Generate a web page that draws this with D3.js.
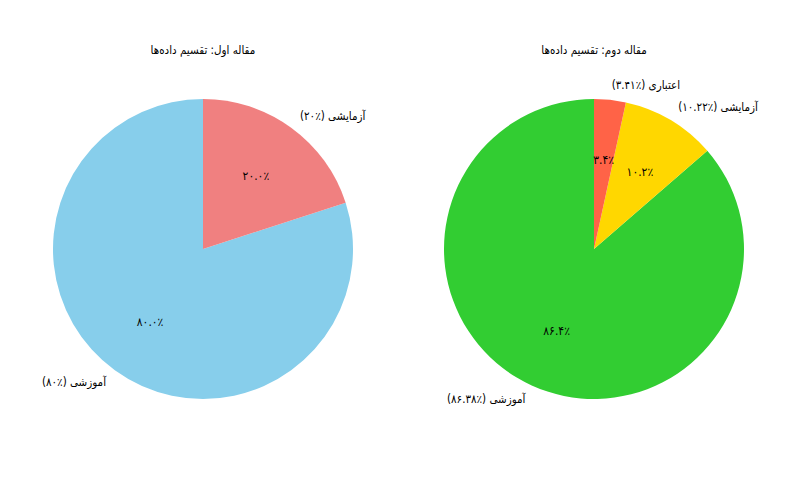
<!DOCTYPE html>
<html>
<head>
<meta charset="utf-8">
<script src="https://cdn.jsdelivr.net/npm/d3@7"></script>
<style>
  html, body { margin: 0; padding: 0; background: #fff; }
  svg text { font-family: "DejaVu Sans Condensed", "DejaVu Sans", sans-serif; fill: #000; }
</style>
</head>
<body>
<svg id="chart" width="800" height="500"></svg>
<script>
// Data (matplotlib order, drawn counter-clockwise from 12 o'clock)
const titles = ["مقاله اول: تقسیم داده‌ها", "مقاله دوم: تقسیم داده‌ها"];
const categories1 = ["آموزشی", "آزمایشی"];
const values1 = [80, 20];
const valueLabels1 = ["80", "20"];
const colors1 = ["#87CEEB", "#F08080"];

const categories2 = ["آموزشی", "آزمایشی", "اعتباری"];
const values2 = [86.38, 10.22, 3.41];
const valueLabels2 = ["86.38", "10.22", "3.41"];
const colors2 = ["#32CD32", "#FFD700", "#FF6347"];

const toFa = s => String(s).replace(/[0-9]/g, d => "۰۱۲۳۴۵۶۷۸۹"[+d]);
const RLE = "\u202B", PDF = "\u202C";

const svg = d3.select("#chart");
const radius = 150;
const centers = [[203, 249], [594, 249]];

const charts = [
  { title: titles[0], cats: categories1, vals: values1, vlabels: valueLabels1, colors: colors1 },
  { title: titles[1], cats: categories2, vals: values2, vlabels: valueLabels2, colors: colors2 }
];

const pie = d3.pie().sort(null).startAngle(0).endAngle(-2 * Math.PI);
const arc = d3.arc().innerRadius(0).outerRadius(radius);

charts.forEach((c, i) => {
  const g = svg.append("g").attr("transform", `translate(${centers[i][0]},${centers[i][1]})`);
  const data = c.cats.map((name, j) => ({ name, value: c.vals[j], vlabel: c.vlabels[j], color: c.colors[j] }));
  const total = d3.sum(c.vals);
  const arcs = pie.value(d => d.value)(data);

  g.selectAll("path").data(arcs).join("path")
    .attr("d", arc)
    .attr("fill", d => d.data.color);

  // percentage labels at 0.6 r
  g.selectAll("text.pct").data(arcs).join("text")
    .attr("class", "pct")
    .attr("x", d => { const a = (d.startAngle + d.endAngle) / 2; return 0.6 * radius * Math.sin(a); })
    .attr("y", d => { const a = (d.startAngle + d.endAngle) / 2; return -0.6 * radius * Math.cos(a); })
    .attr("text-anchor", "middle")
    .attr("dominant-baseline", "central")
    .style("font-size", "12px")
    .text(d => toFa(d3.format(".1f")(d.data.value / total * 100)) + "٪");

  // outer labels at 1.1 r
  g.selectAll("text.lbl").data(arcs).join("text")
    .attr("class", "lbl")
    .attr("x", d => { const a = (d.startAngle + d.endAngle) / 2; return 1.1 * radius * Math.sin(a); })
    .attr("y", d => { const a = (d.startAngle + d.endAngle) / 2; return -1.1 * radius * Math.cos(a); })
    .attr("text-anchor", d => { const a = (d.startAngle + d.endAngle) / 2; return Math.sin(a) > 0 ? "start" : "end"; })
    .attr("dominant-baseline", "central")
    .style("font-size", "11.5px")
    .text(d => RLE + d.data.name + " (" + "٪" + toFa(d.data.vlabel) + ")" + PDF);

  svg.append("text")
    .attr("x", centers[i][0])
    .attr("y", 50)
    .attr("text-anchor", "middle")
    .attr("dominant-baseline", "central")
    .style("font-size", "11.5px")
    .text(RLE + c.title + PDF);
});
</script>
</body>
</html>
